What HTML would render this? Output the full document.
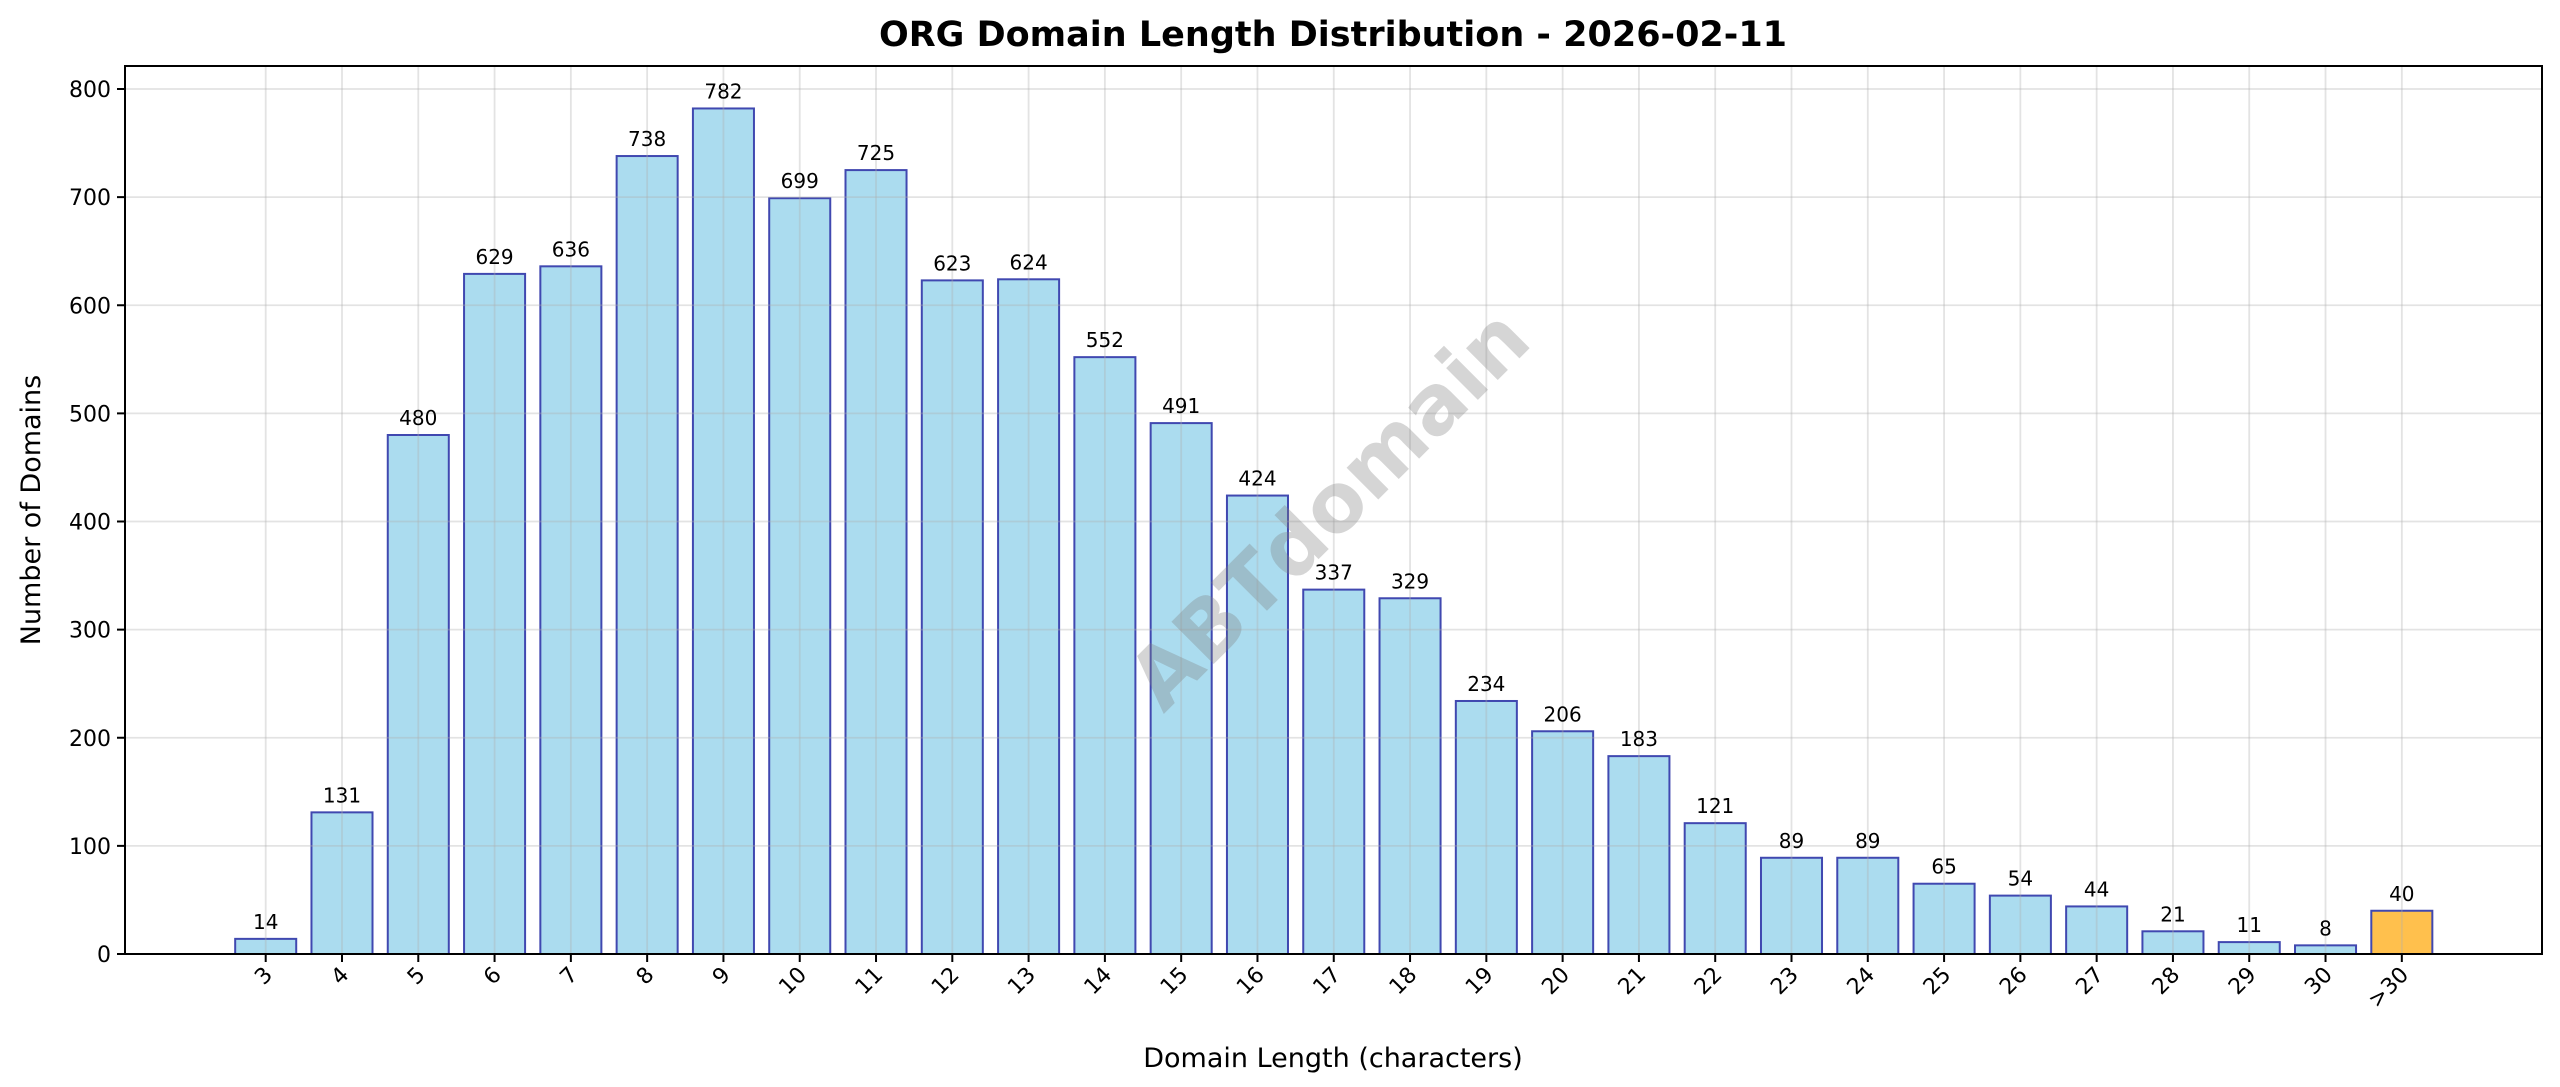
<!DOCTYPE html>
<html><head><meta charset="utf-8"><style>
html,body{margin:0;padding:0;background:#fff;}
svg{display:block;font-family:"DejaVu Sans","Liberation Sans",sans-serif;}
</style></head><body>
<svg id="chart" width="2560" height="1087" viewBox="0 0 2560 1087" xmlns="http://www.w3.org/2000/svg">
<text x="1333" y="46" text-anchor="middle" font-size="35" font-weight="bold" fill="#000">ORG Domain Length Distribution - 2026-02-11</text>
<g id="bars"></g>
<g id="grid"></g>
<g id="labels"></g>
<text x="1333" y="513" text-anchor="middle" dominant-baseline="middle" font-size="82" font-weight="bold" fill="rgba(128,128,128,0.33)" transform="rotate(-45 1333 513)">ABTdomain</text>
<rect x="125" y="66" width="2417" height="888" fill="none" stroke="#000" stroke-width="2"/>
<g id="xticks"></g>
<g id="yticks"></g>
<text x="1333" y="1067" text-anchor="middle" font-size="27" fill="#000">Domain Length (characters)</text>
<text x="0" y="0" text-anchor="middle" font-size="27" fill="#000" transform="translate(40 510) rotate(-90)">Number of Domains</text>
</svg>
<script>
const categories = ["3","4","5","6","7","8","9","10","11","12","13","14","15","16","17","18","19","20","21","22","23","24","25","26","27","28","29","30",">30"];
const counts = [14,131,480,629,636,738,782,699,725,623,624,552,491,424,337,329,234,206,183,121,89,89,65,54,44,21,11,8,40];
const yTicks = [0,100,200,300,400,500,600,700,800];

const NS = "http://www.w3.org/2000/svg";
const L = 125, R = 2542, T = 66, B = 954;
const x0 = 265.7, step = 76.29;
const xScale = i => x0 + i * step;
const yScale = v => B - v * 1.08125;
const bw = step * 0.8;
function mk(tag, attrs, parent){const e=document.createElementNS(NS,tag);for(const k in attrs)e.setAttribute(k,attrs[k]);parent.appendChild(e);return e;}
const gb=document.getElementById('bars'), gg=document.getElementById('grid'), gl=document.getElementById('labels'), gx=document.getElementById('xticks'), gy=document.getElementById('yticks');

counts.forEach((v,i)=>{
  const last = categories[i] === ">30";
  const r = mk('rect',{x:xScale(i)-bw/2,y:yScale(v),width:bw,height:B-yScale(v),fill:last?'#ffc04d':'#abdcef',stroke:'#4048b0','stroke-width':2},gb);
  
  
  const t = mk('text',{x:xScale(i),y:yScale(v)-10,'text-anchor':'middle','font-size':20,fill:'#000'},gl);
  t.textContent = v;
  
  
  const gv = mk('line',{x1:xScale(i),x2:xScale(i),y1:T,y2:B,stroke:'rgba(176,176,176,0.35)','stroke-width':1.8},gg);
  
  
  mk('line',{x1:xScale(i),x2:xScale(i),y1:B,y2:B+8,stroke:'#000','stroke-width':2},gx);
  const xl = mk('text',{x:0,y:0,'text-anchor':'end','font-size':22,fill:'#000',transform:`translate(${xScale(i)+8} ${B+22}) rotate(-45)`},gx);
  xl.textContent = categories[i];
  
  
});
yTicks.forEach(v=>{
  const gh = mk('line',{x1:L,x2:R,y1:yScale(v),y2:yScale(v),stroke:'rgba(176,176,176,0.35)','stroke-width':1.8},gg);
  
  
  mk('line',{x1:L-8,x2:L,y1:yScale(v),y2:yScale(v),stroke:'#000','stroke-width':2},gy);
  const yl = mk('text',{x:L-14,y:yScale(v)+8,'text-anchor':'end','font-size':22,fill:'#000'},gy);
  yl.textContent = v;
  
  
});
</script>
</body></html>
